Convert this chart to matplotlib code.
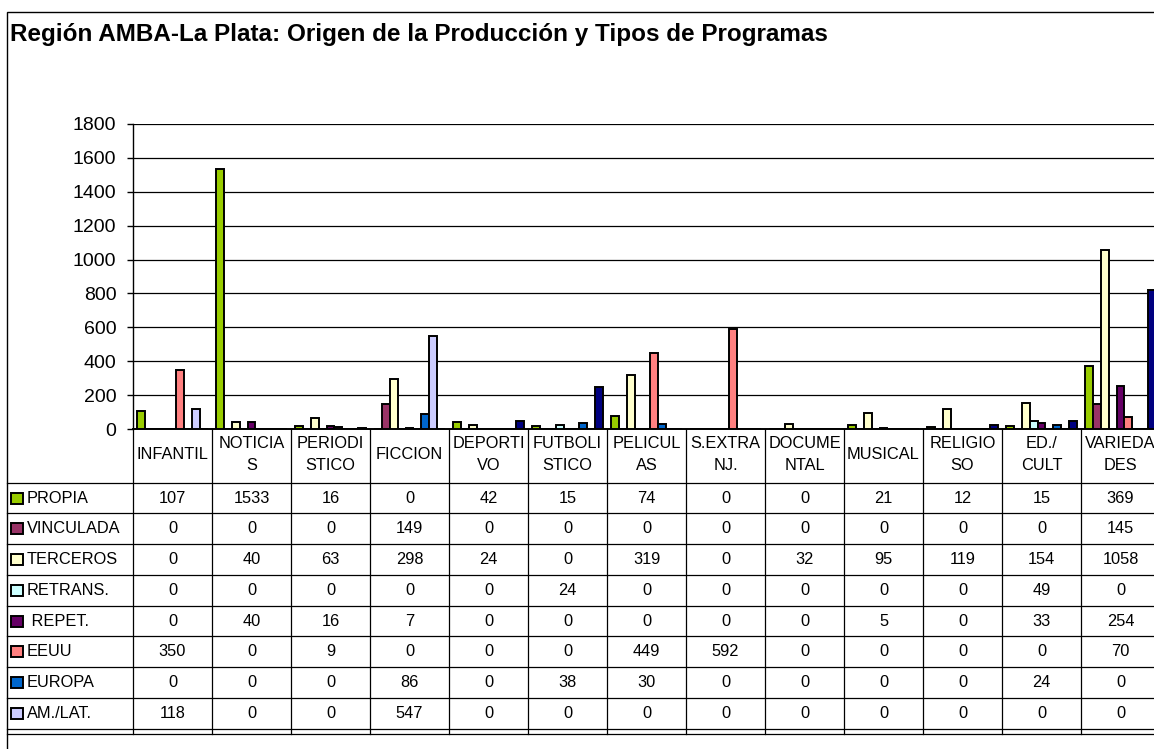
import matplotlib
matplotlib.use("Agg")
import matplotlib.pyplot as plt
from matplotlib.transforms import blended_transform_factory
from matplotlib.patches import Rectangle
from matplotlib.lines import Line2D

plt.rcParams['font.family'] = ['Liberation Sans', 'DejaVu Sans']

title = "Región AMBA-La Plata: Origen de la Producción y Tipos de Programas"

# column headers as printed in the data table (wrapped like the original)
header_labels = ["INFANTIL", "NOTICIA\nS", "PERIODI\nSTICO", "FICCION", "DEPORTI\nVO",
                 "FUTBOLI\nSTICO", "PELICUL\nAS", "S.EXTRA\nNJ.", "DOCUME\nNTAL",
                 "MUSICAL", "RELIGIO\nSO", "ED./\nCULT", "VARIEDA\nDES"]

series_names = ["PROPIA", "VINCULADA", "TERCEROS", "RETRANS.", " REPET.",
                "EEUU", "EUROPA", "AM./LAT.", "OTROS"]
series_colors = ["#99CC00", "#993366", "#FFFFCC", "#CCFFFF", "#660066",
                 "#FF8080", "#0066CC", "#CCCCFF", "#000080"]

propia = [107, 1533, 16, 0, 42, 15, 74, 0, 0, 21, 12, 15, 369]
vinculada = [0, 0, 0, 149, 0, 0, 0, 0, 0, 0, 0, 0, 145]
terceros = [0, 40, 63, 298, 24, 0, 319, 0, 32, 95, 119, 154, 1058]
retrans = [0, 0, 0, 0, 0, 24, 0, 0, 0, 0, 0, 49, 0]
repet = [0, 40, 16, 7, 0, 0, 0, 0, 0, 5, 0, 33, 254]
eeuu = [350, 0, 9, 0, 0, 0, 449, 592, 0, 0, 0, 0, 70]
europa = [0, 0, 0, 86, 0, 38, 30, 0, 0, 0, 0, 24, 0]
am_lat = [118, 0, 0, 547, 0, 0, 0, 0, 0, 0, 0, 0, 0]
# last series: its table row is cut off
otros = [0, 0, 4, 0, 50, 245, 0, 0, 0, 0, 25, 45, 818]

series = [propia, vinculada, terceros, retrans, repet, eeuu, europa, am_lat, otros]
n_table_rows = 8

W, H = 1154, 749


def fx(px):
    return px / W


def fy(py):
    return 1 - py / H


fig = plt.figure(figsize=(W / 100, H / 100), dpi=100)

# outer chart frame (right and bottom edges fall outside the picture)
fig.add_artist(Rectangle((fx(7), -0.1), 1.2, fy(12) + 0.1, transform=fig.transFigure,
                         fill=False, edgecolor="black", lw=1.0))

fig.text(fx(10), fy(35), title, fontsize=17.5, fontweight="bold", va="center", ha="left")

ax_left, ax_right, ax_top, ax_bottom = 133, 1160, 124, 429
ax = fig.add_axes([fx(ax_left), fy(ax_bottom), fx(ax_right - ax_left), (ax_bottom - ax_top) / H])

ncat = len(header_labels)
bw = 0.1
for j, vals in enumerate(series):
    xs = [i + (j - 4) * bw for i in range(ncat)]
    ax.bar(xs, vals, width=bw, color=series_colors[j], edgecolor="black", linewidth=1.4, zorder=3)

ax.set_xlim(-0.5, ncat - 0.5)
ax.set_ylim(0, 1800)
ax.set_yticks(range(0, 1801, 200))
ax.set_xticks([])
ax.yaxis.grid(True, color="black", linewidth=0.9)
ax.set_axisbelow(True)
for s in ["top", "right"]:
    ax.spines[s].set_visible(False)
ax.spines["left"].set_linewidth(1.0)
ax.spines["bottom"].set_linewidth(1.4)
ax.tick_params(axis="y", labelsize=14, length=4, width=1, pad=8)

# data table under the axis
tr = blended_transform_factory(ax.transData, fig.transFigure)
row_top = 482.7
row_h = 30.75
table_bottom = 734

for i in range(ncat + 1):
    fig.add_artist(Line2D([i - 0.5, i - 0.5], [fy(ax_bottom), fy(table_bottom)],
                          transform=tr, color="black", lw=0.9))
hlines = [row_top + k * row_h for k in range(n_table_rows + 1)] + [table_bottom]
for yy in hlines:
    fig.add_artist(Line2D([fx(7), fx(1160)], [fy(yy), fy(yy)],
                          transform=fig.transFigure, color="black", lw=0.9))

for i, lab in enumerate(header_labels):
    parts = lab.split("\n")
    if len(parts) == 1:
        fig.text(i, fy(454), parts[0], transform=tr, ha="center", va="center", fontsize=11.8)
    else:
        fig.text(i, fy(443), parts[0], transform=tr, ha="center", va="center", fontsize=11.8)
        fig.text(i, fy(466), parts[1], transform=tr, ha="center", va="center", fontsize=11.8)

for k in range(n_table_rows):
    yc = row_top + k * row_h + row_h / 2
    fig.add_artist(Rectangle((fx(11.5), fy(yc + 5.5)), fx(11), 11 / H, transform=fig.transFigure,
                             facecolor=series_colors[k], edgecolor="black", lw=1.4))
    fig.text(fx(27), fy(yc), series_names[k], ha="left", va="center", fontsize=11.8)
    for i, v in enumerate(series[k]):
        fig.text(i, fy(yc), str(v), transform=tr, ha="center", va="center", fontsize=11.8)

fig.savefig("out.png", dpi=100)
